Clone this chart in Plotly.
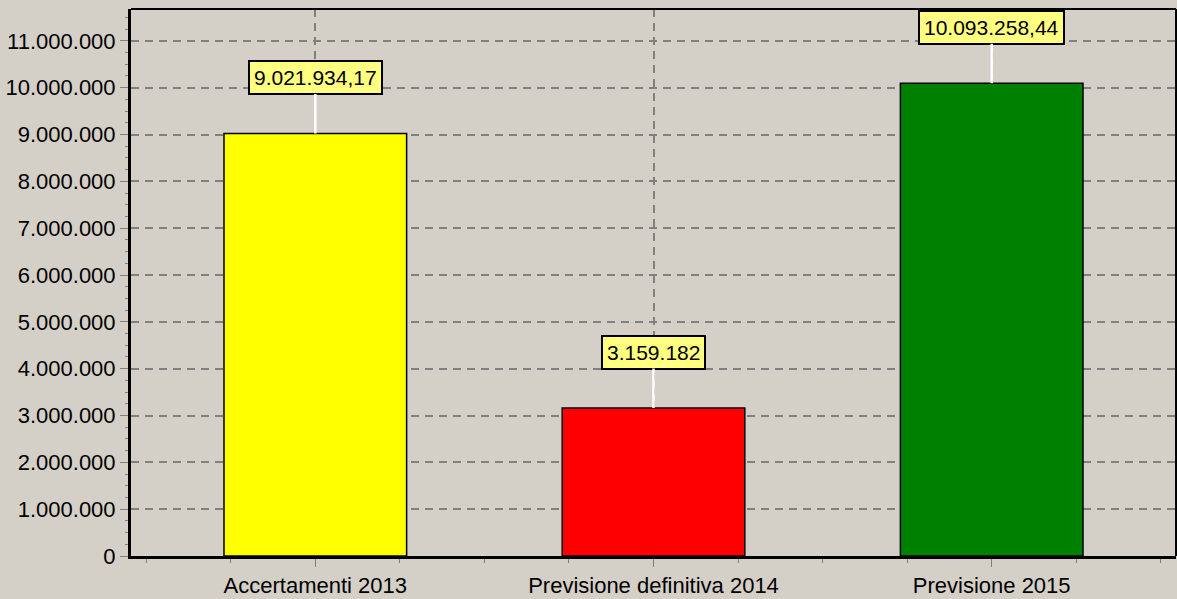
import plotly.graph_objects as go

categories = ["Accertamenti 2013", "Previsione definitiva 2014", "Previsione 2015"]
values = [9021934.17, 3159182, 10093258.44]
value_labels = ["9.021.934,17", "3.159.182", "10.093.258,44"]
bar_colors = ["#FFFF00", "#FF0000", "#008000"]
y_ticks = list(range(0, 12000000, 1000000))

x_pos = list(range(len(categories)))
FONT = "Liberation Sans, Arial, sans-serif"
BG = "#D4D0C8"

fig = go.Figure()
fig.add_trace(go.Bar(
    x=x_pos, y=values,
    marker=dict(color=bar_colors, line=dict(color="black", width=1.5)),
    width=0.54, hoverinfo="skip",
))

for xi, v, lab in zip(x_pos, values, value_labels):
    fig.add_annotation(
        x=xi, y=v, text=lab, showarrow=True, arrowhead=0, arrowwidth=2.5,
        arrowcolor="white", ax=0, ay=-56, standoff=0,
        bgcolor="#FFFF80", bordercolor="black", borderwidth=2, borderpad=4,
        font=dict(family=FONT, size=21, color="black"),
    )

fig.update_layout(
    width=1177, height=599,
    margin=dict(l=131, r=1, t=9, b=43),
    paper_bgcolor=BG, plot_bgcolor=BG,
    separators=",.",
    showlegend=False,
    font=dict(family=FONT, size=22, color="black"),
    xaxis=dict(
        range=[-0.545, 2.545],
        tickvals=x_pos, ticktext=categories,
        ticks="outside", ticklen=8, tickcolor="#808080", tickwidth=1,
        showline=True, linecolor="black", linewidth=3,
        showgrid=True, gridcolor="#808080", griddash="8px,6px", gridwidth=1.5,
        minor=dict(dtick=0.25, tick0=-0.5, ticks="outside", ticklen=4, tickcolor="#808080", showgrid=False),
        zeroline=False, fixedrange=True,
    ),
    yaxis=dict(
        range=[0, 11680000],
        tickvals=y_ticks, tickformat=",d",
        ticks="outside", ticklen=8, tickcolor="#808080", tickwidth=1,
        showline=True, linecolor="black", linewidth=3,
        showgrid=True, gridcolor="#808080", griddash="8px,6px", gridwidth=1.5,
        minor=dict(dtick=250000, ticks="outside", ticklen=3, tickcolor="#808080", showgrid=False),
        zeroline=False, fixedrange=True,
    ),
    shapes=[
        dict(type="line", xref="paper", yref="paper", x0=0, x1=1, y0=1, y1=1,
             line=dict(color="black", width=2)),
        dict(type="line", xref="paper", yref="paper", x0=1, x1=1, y0=0, y1=1,
             line=dict(color="black", width=2)),
    ],
)

fig.write_html("out.html", config={"displayModeBar": False},
               post_script="document.body.style.margin='0';document.body.style.overflow='hidden';")
